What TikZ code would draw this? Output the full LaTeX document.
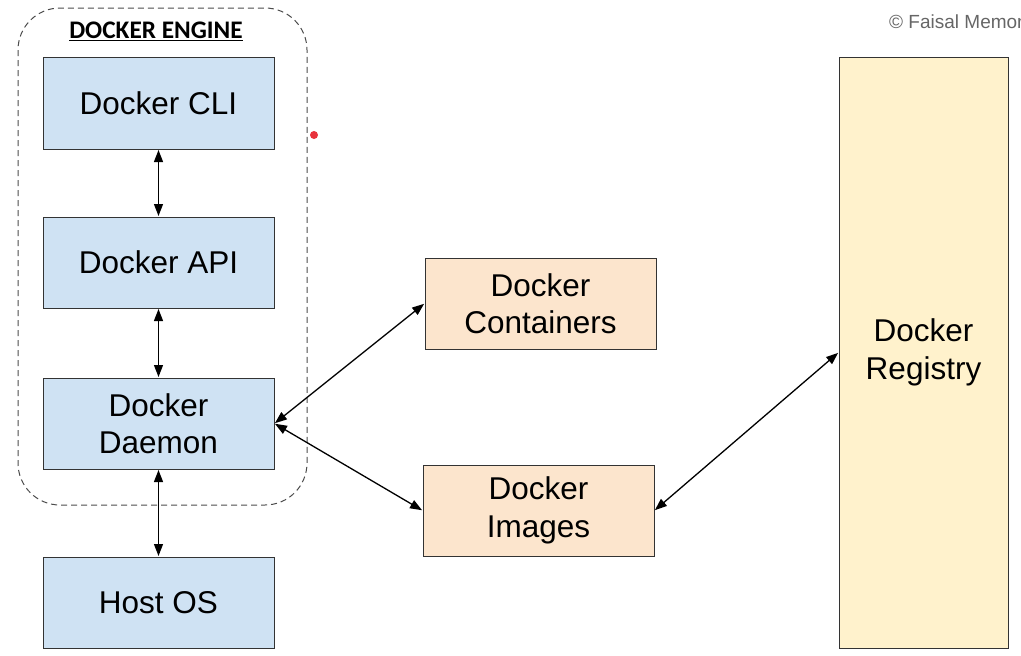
\documentclass[tikz,border=0pt]{standalone}
\usepackage{fontspec}
\setmainfont{Liberation Sans}
\newfontfamily\titlefont{Carlito}
\usetikzlibrary{arrows.meta}
\definecolor{lblue}{HTML}{CFE2F3}
\definecolor{lorange}{HTML}{FCE5CD}
\definecolor{lyellow}{HTML}{FFF2CC}
\definecolor{dotred}{HTML}{E8323C}
\tikzset{
  box/.style={draw=black!80, line width=1pt, inner sep=0pt, align=center,
    font=\fontsize{31.5}{37.5}\selectfont},
  bluebox/.style={box, fill=lblue},
  orangebox/.style={box, fill=lorange},
  yellowbox/.style={box, fill=lyellow},
  link/.style={line width=1.3pt, {Triangle[length=12pt,width=9pt]}-{Triangle[length=12pt,width=9pt]}, shorten <=0.5pt, shorten >=0.5pt}
}
\begin{document}
\begin{tikzpicture}[x=1pt,y=-1pt]
\useasboundingbox (0,0) rectangle (1021,656);
\begin{scope}
\clip (0,0) rectangle (1021,656);
\node[anchor=west, text=black!60, font=\fontsize{19}{22}\selectfont, inner sep=0pt] (copy) at (889,22) {© Faisal Memon};
\end{scope}
% engine frame
\draw[dashed, draw=black!70, line width=1pt, dash pattern=on 6pt off 4pt, rounded corners=42pt] (18,8) rectangle (307,505);
\node[font=\titlefont\bfseries\fontsize{25.3}{28}\selectfont, inner sep=0pt] (title) at (156,31) {\underline{DOCKER ENGINE}};
\fill[dotred] (314,135) circle (4pt);
% boxes
\node[bluebox, minimum width=231pt, minimum height=92pt] (cli) at (158.5,103) {Docker CLI};
\node[bluebox, minimum width=231pt, minimum height=91pt] (api) at (158.5,262.5) {Docker API};
\node[bluebox, minimum width=231pt, minimum height=91pt] (daemon) at (158.5,423.5) {Docker\\Daemon};
\node[bluebox, minimum width=231pt, minimum height=91pt] (host) at (158.5,602.5) {Host OS};
\node[orangebox, minimum width=231pt, minimum height=91pt] (containers) at (540.5,303.5) {Docker\\Containers};
\node[orangebox, minimum width=231pt, minimum height=91pt] (images) at (538.5,510.5) {Docker\\Images};
\node[yellowbox, minimum width=169pt, minimum height=591pt] (registry) at (923.5,352.5) {Docker\\Registry};
% arrows
\draw[link] (cli.south) -- (api.north);
\draw[link] (api.south) -- (daemon.north);
\draw[link] (daemon.south) -- (host.north);
\draw[link] (daemon.east) -- (containers.west);
\draw[link] (daemon.east) -- (images.west);
\draw[link] (images.east) -- (registry.west);
\end{tikzpicture}
\end{document}
